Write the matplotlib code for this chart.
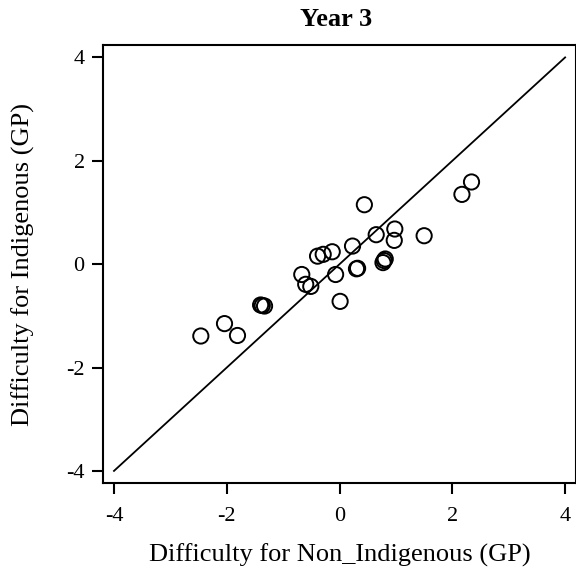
import matplotlib
matplotlib.use("Agg")
import matplotlib.pyplot as plt

non_indigenous = [-2.46, -2.04, -1.81, -1.40, -1.33, -1.37, -0.67, -0.60, -0.51,
                  -0.39, -0.29, -0.13, -0.07, 0.01, 0.23, 0.30, 0.32, 0.44,
                  0.65, 0.77, 0.81, 0.79, 0.98, 0.97, 1.50, 2.17, 2.34]
indigenous = [-1.39, -1.15, -1.38, -0.79, -0.81, -0.80, -0.20, -0.39, -0.43,
              0.155, 0.19, 0.24, -0.20, -0.72, 0.35, -0.09, -0.08, 1.15,
              0.57, 0.03, 0.10, 0.07, 0.68, 0.46, 0.55, 1.35, 1.59]
identity = [-4, 4]
ticks = [-4, -2, 0, 2, 4]

SERIF = "Liberation Serif"

fig = plt.figure(figsize=(5.76, 5.80), dpi=100)
ax = fig.add_axes([0.1783, 0.1667, 0.8224, 0.7557])

ax.plot(identity, identity, color="black", lw=1.3)
ax.scatter(non_indigenous, indigenous, s=120, facecolors="none",
           edgecolors="black", linewidths=1.4, zorder=3)

ax.set_xlim(-4.2, 4.2)
ax.set_ylim(-4.24, 4.24)
ax.set_xticks(ticks)
ax.set_yticks(ticks)
ax.set_xticklabels([str(t) for t in ticks], fontsize=16, family=SERIF)
ax.set_yticklabels([str(t) for t in ticks], fontsize=16, family=SERIF)
ax.tick_params(direction="out", length=8, width=1.5)
ax.tick_params(axis="x", pad=9)
ax.tick_params(axis="y", pad=5)
for s in ax.spines.values():
    s.set_linewidth(1.5)

ax.set_xlabel("Difficulty for Non_Indigenous (GP)", family=SERIF, fontsize=19)
ax.set_ylabel("Difficulty for Indigenous (GP)", family=SERIF, fontsize=19)
ax.xaxis.set_label_coords(0.5, (580 - 555) / 580, transform=fig.transFigure)
ax.xaxis.label.set_va("center")
ax.yaxis.set_label_coords(23 / 576, 0.5, transform=fig.transFigure)
ax.yaxis.label.set_va("center")
ax.xaxis.set_label_coords((102.7 + 576.4) / 2 / 576, (580 - 555) / 580,
                          transform=fig.transFigure)
ax.yaxis.set_label_coords(23 / 576, (580 - 264) / 580, transform=fig.transFigure)

fig.text(336 / 576, (580 - 20) / 580, "Year 3", family=SERIF, fontweight="bold",
         fontsize=19, ha="center", va="center")

fig.savefig("out.png", dpi=100)
